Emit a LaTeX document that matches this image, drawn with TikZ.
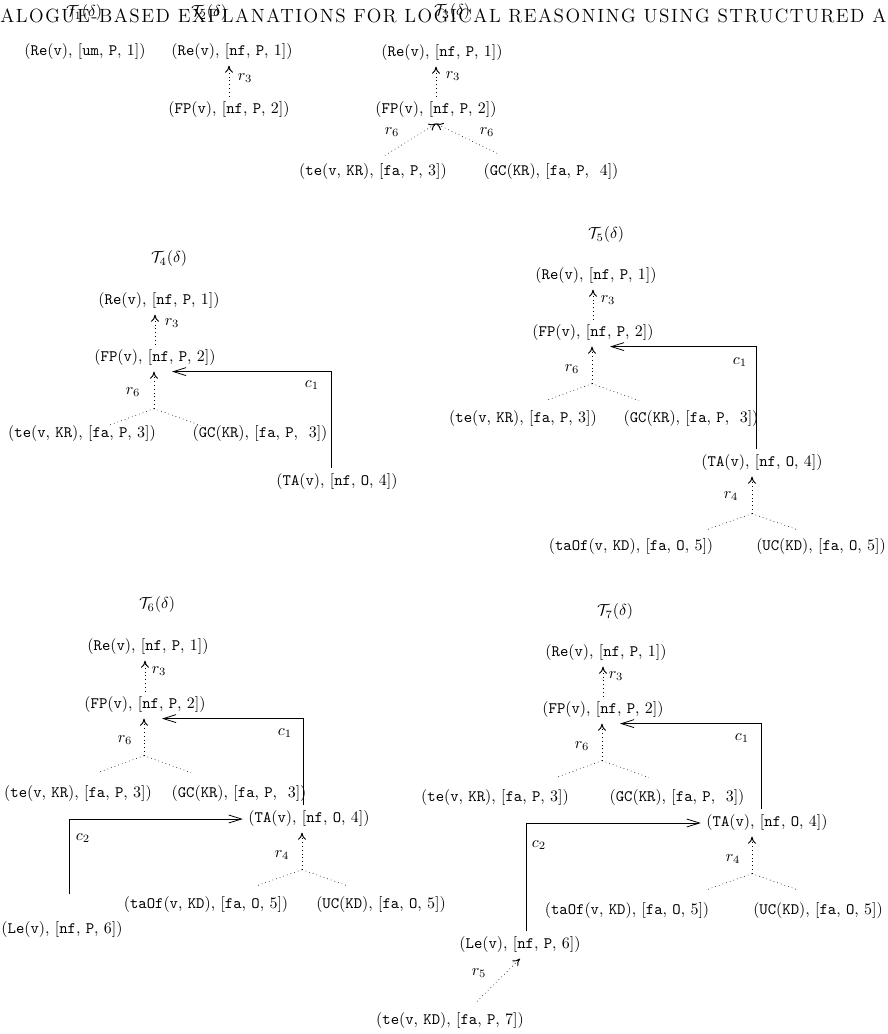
\documentclass[tikz,border=0pt]{standalone}
\usepackage{fontspec}
\usetikzlibrary{arrows.meta,calc}
\newfontfamily\hdfont[LetterSpace=8]{lmroman12-regular.otf}
\newcommand{\tn}[1]{\texttt{#1}}

\begin{document}
\begin{tikzpicture}[x=0.627pt, y=-0.627pt,
    rl/.style={dotted, -{To[length=4.5pt,width=5pt,line width=0.6pt]}},
    br/.style={dotted},
    cl/.style={line width=0.5pt, -{Straight Barb[length=8pt,width=5pt]}}]
    \useasboundingbox (0,0) rectangle (888,1034);

    \node[anchor=base west, inner sep=0pt] (hd) at (0,23) {\fontsize{12}{14}\selectfont\hdfont ALOGUE-BASED EXPLANATIONS FOR LOGICAL REASONING USING STRUCTURED A};

    % T1, T2, T3
    \node (t1) at (84,13) {$\mathcal{T}_1(\delta)$};
    \node (r1) at (85,52) {(\tn{Re}(\tn{v}), [\tn{um}, \tn{P}, 1])};

    \node (t2) at (209,13) {$\mathcal{T}_2(\delta)$};
    \node (re2) at (232,52) {(\tn{Re}(\tn{v}), [\tn{nf}, \tn{P}, 1])};
    \node (fp2) at (229,110) {(\tn{FP}(\tn{v}), [\tn{nf}, \tn{P}, 2])};
    \draw[rl] (fp2.north) -- (fp2.north |- re2.south);
    \node (l2a) at (245,78) {$r_3$};

    \node (t3) at (452,12) {$\mathcal{T}_3(\delta)$};
    \node (re3) at (442,53) {(\tn{Re}(\tn{v}), [\tn{nf}, \tn{P}, 1])};
    \node (fp3) at (436,110) {(\tn{FP}(\tn{v}), [\tn{nf}, \tn{P}, 2])};
    \node (te3) at (373,172) {(\tn{te}(\tn{v}, \tn{KR}), [\tn{fa}, \tn{P}, 3])};
    \node (gc3) at (551,172) {(\tn{GC}(\tn{KR}), [\tn{fa}, \tn{P}, \ 4])};
    \draw[rl] (fp3.north) -- (fp3.north |- re3.south);
    \draw[rl] ($(te3.north)+(12,-3)$) -- (fp3.south);
    \draw[rl] ($(gc3.north)+(-54,-5)$) -- (fp3.south);
    \node (l3a) at (453,76) {$r_3$};
    \node (l3b) at (392,132) {$r_6$};
    \node (l3c) at (487,132) {$r_6$};

    % T4
    \node (t4) at (169,259) {$\mathcal{T}_4(\delta)$};
    \node (re4) at (159,301) {(\tn{Re}(\tn{v}), [\tn{nf}, \tn{P}, 1])};
    \node (fp4) at (155,358) {(\tn{FP}(\tn{v}), [\tn{nf}, \tn{P}, 2])};
    \node (te4) at (82,434) {(\tn{te}(\tn{v}, \tn{KR}), [\tn{fa}, \tn{P}, 3])};
    \node (gc4) at (260,434) {(\tn{GC}(\tn{KR}), [\tn{fa}, \tn{P}, \ 3])};
    \node (ta4) at (337,482) {(\tn{TA}(\tn{v}), [\tn{nf}, \tn{O}, 4])};
    \coordinate (j4) at ($(fp4.south)+(-1,37)$);
    \draw[rl] (fp4.north) -- (fp4.north |- re4.south);
    \draw[rl] (j4) -- (j4 |- fp4.south);
    \draw[br] (j4) -- ++(-46,17);
    \draw[br] (j4) -- ++(47,17);
    \draw[cl] ($(ta4.north)+(-6,0)$) |- ($(fp4.south)+(17,0)$);
    \node (l4a) at (172,323) {$r_3$};
    \node (l4b) at (133,392) {$r_6$};
    \node (l4c) at (312,385) {$c_1$};

    % T5
    \node (t5) at (606,235) {$\mathcal{T}_5(\delta)$};
    \node (re5) at (596,276) {(\tn{Re}(\tn{v}), [\tn{nf}, \tn{P}, 1])};
    \node (fp5) at (593,333) {(\tn{FP}(\tn{v}), [\tn{nf}, \tn{P}, 2])};
    \node (te5) at (523,419) {(\tn{te}(\tn{v}, \tn{KR}), [\tn{fa}, \tn{P}, 3])};
    \node (gc5) at (691,419) {(\tn{GC}(\tn{KR}), [\tn{fa}, \tn{P}, \ 3])};
    \node (ta5) at (762,463) {(\tn{TA}(\tn{v}), [\tn{nf}, \tn{O}, 4])};
    \node (to5) at (631,547) {(\tn{taOf}(\tn{v}, \tn{KD}), [\tn{fa}, \tn{O}, 5])};
    \node (uc5) at (821,547) {(\tn{UC}(\tn{KD}), [\tn{fa}, \tn{O}, 5])};
    \coordinate (j5) at ($(fp5.south)+(-1,37)$);
    \coordinate (k5) at ($(ta5.south)+(-10,37)$);
    \draw[rl] (fp5.north) -- (fp5.north |- re5.south);
    \draw[rl] (j5) -- (j5 |- fp5.south);
    \draw[br] (j5) -- ++(-46,17);
    \draw[br] (j5) -- ++(47,17);
    \draw[rl] (k5) -- (k5 |- ta5.south);
    \draw[br] (k5) -- ++(-45,16);
    \draw[br] (k5) -- ++(45,16);
    \draw[cl] ($(ta5.north)+(-6,0)$) |- ($(fp5.south)+(17,0)$);
    \node (l5a) at (608,300) {$r_3$};
    \node (l5b) at (572,369) {$r_6$};
    \node (l5c) at (740,362) {$c_1$};
    \node (l5d) at (731,496) {$r_4$};

    % T6
    \node (t6) at (157,605) {$\mathcal{T}_6(\delta)$};
    \node (re6) at (148,647) {(\tn{Re}(\tn{v}), [\tn{nf}, \tn{P}, 1])};
    \node (fp6) at (145,705) {(\tn{FP}(\tn{v}), [\tn{nf}, \tn{P}, 2])};
    \node (te6) at (78,794) {(\tn{te}(\tn{v}, \tn{KR}), [\tn{fa}, \tn{P}, 3])};
    \node (gc6) at (239,794) {(\tn{GC}(\tn{KR}), [\tn{fa}, \tn{P}, \ 3])};
    \node (ta6) at (309,819) {(\tn{TA}(\tn{v}), [\tn{nf}, \tn{O}, 4])};
    \node (to6) at (206,905) {(\tn{taOf}(\tn{v}, \tn{KD}), [\tn{fa}, \tn{O}, 5])};
    \node (uc6) at (381,905) {(\tn{UC}(\tn{KD}), [\tn{fa}, \tn{O}, 5])};
    \node (le6) at (62,930) {(\tn{Le}(\tn{v}), [\tn{nf}, \tn{P}, 6])};
    \coordinate (j6) at ($(fp6.south)+(-1,37)$);
    \coordinate (k6) at ($(ta6.south)+(-7,37)$);
    \draw[rl] (fp6.north) -- (fp6.north |- re6.south);
    \draw[rl] (j6) -- (j6 |- fp6.south);
    \draw[br] (j6) -- ++(-46,17);
    \draw[br] (j6) -- ++(47,17);
    \draw[rl] (k6) -- (k6 |- ta6.south);
    \draw[br] (k6) -- ++(-45,16);
    \draw[br] (k6) -- ++(45,16);
    \draw[cl] ($(ta6.north)+(-6,0)$) |- ($(fp6.south)+(17,0)$);
    \draw[cl] ($(le6.north)+(7,-22)$) |- (ta6.west);
    \node (l6a) at (159,671) {$r_3$};
    \node (l6b) at (125,740) {$r_6$};
    \node (l6c) at (285,733) {$c_1$};
    \node (l6d) at (83,838) {$c_2$};
    \node (l6e) at (282,855) {$r_4$};

    % T7
    \node (t7) at (615,612) {$\mathcal{T}_7(\delta)$};
    \node (re7) at (606,653) {(\tn{Re}(\tn{v}), [\tn{nf}, \tn{P}, 1])};
    \node (fp7) at (603,710) {(\tn{FP}(\tn{v}), [\tn{nf}, \tn{P}, 2])};
    \node (te7) at (495,798) {(\tn{te}(\tn{v}, \tn{KR}), [\tn{fa}, \tn{P}, 3])};
    \node (gc7) at (677,798) {(\tn{GC}(\tn{KR}), [\tn{fa}, \tn{P}, \ 3])};
    \node (ta7) at (767,823) {(\tn{TA}(\tn{v}), [\tn{nf}, \tn{O}, 4])};
    \node (to7) at (627,911) {(\tn{taOf}(\tn{v}, \tn{KD}), [\tn{fa}, \tn{O}, 5])};
    \node (uc7) at (818,911) {(\tn{UC}(\tn{KD}), [\tn{fa}, \tn{O}, 5])};
    \node (le7) at (520,945) {(\tn{Le}(\tn{v}), [\tn{nf}, \tn{P}, 6])};
    \node (tk7) at (450,1021) {(\tn{te}(\tn{v}, \tn{KD}), [\tn{fa}, \tn{P}, 7])};
    \coordinate (j7) at ($(fp7.south)+(-1,37)$);
    \coordinate (k7) at ($(ta7.south)+(-15,37)$);
    \draw[rl] (fp7.north) -- (fp7.north |- re7.south);
    \draw[rl] (j7) -- (j7 |- fp7.south);
    \draw[br] (j7) -- ++(-46,17);
    \draw[br] (j7) -- ++(47,17);
    \draw[rl] (k7) -- (k7 |- ta7.south);
    \draw[br] (k7) -- ++(-45,16);
    \draw[br] (k7) -- ++(45,16);
    \draw[cl] ($(ta7.north)+(-6,0)$) |- ($(fp7.south)+(17,0)$);
    \draw[cl] ($(le7.north)+(6,0)$) |- (ta7.west);
    \draw[rl] ($(tk7.north)+(27,-6)$) -- (le7.south);
    \node (l7a) at (616,676) {$r_3$};
    \node (l7b) at (582,746) {$r_6$};
    \node (l7c) at (742,738) {$c_1$};
    \node (l7d) at (539,845) {$c_2$};
    \node (l7e) at (733,859) {$r_4$};
    \node (l7f) at (479,973) {$r_5$};
\end{tikzpicture}
\end{document}
